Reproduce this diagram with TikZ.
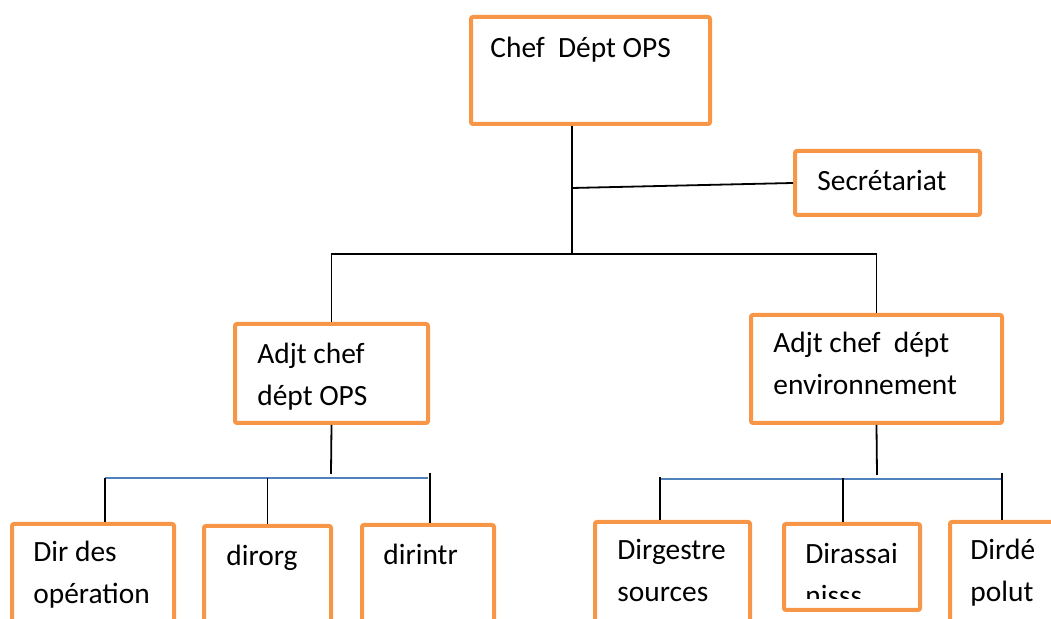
\documentclass[tikz,border=0pt]{standalone}
\usepackage{fontspec}
\setmainfont{Carlito}
\usetikzlibrary{fit}
\definecolor{boxorange}{HTML}{F79646}
\definecolor{linkblue}{HTML}{4F81BD}

\begin{document}
\begin{tikzpicture}[x=0.5pt,y=-0.5pt,
    orgbox/.style={draw=boxorange,line width=2pt,rounded corners=1pt,inner sep=0pt},
    lbl/.style={inner sep=0pt,anchor=base west,align=left,
                font=\fontsize{14.7}{21.3}\selectfont},
    link/.style={black,line width=0.9pt},
    bus/.style={linkblue,line width=0.8pt}]
  \useasboundingbox (0,0) rectangle (1051,619);
  \node[orgbox,fit={(471,17) (710,124)}]   (chef)     {};
  \node[orgbox,fit={(795,151) (980,215)}]  (sec)      {};
  \node[orgbox,fit={(235,324) (428,423)}]  (adjL)     {};
  \node[orgbox,fit={(751,315) (1002,423)}] (adjR)     {};
  \node[orgbox,fit={(12,524) (174,650)}]   (dirOps)   {};
  \node[orgbox,fit={(204,526) (331,650)}]  (dirOrg)   {};
  \node[orgbox,fit={(362,525) (494,650)}]  (dirIntr)  {};
  \node[orgbox,fit={(595,522) (750,650)}]  (dirGest)  {};
  \node[orgbox,fit={(784,524) (920,610)}]  (dirAssai) {};
  \node[orgbox,fit={(950,522) (1080,650)}] (dirPol)   {};
  \node[lbl]    (chefT)    at (490,58)  {Chef\ \ Dépt OPS};
  \node[lbl]    (secT)     at (817,191) {Secrétariat};
  \node[lbl]    (adjLT)    at (257,406) {Adjt chef\\dépt OPS};
  \node[lbl]    (adjRT)    at (773,395) {Adjt chef\ \ dépt\\environnement};
  \node[lbl]    (opsT)     at (33,604)  {Dir des\\opération};
  \node[lbl]    (orgT)     at (226,566) {dirorg};
  \node[lbl]    (intrT)    at (383,565) {dirintr};
  \node[lbl]    (gestT)    at (617,602) {Dirgestre\\sources};
  \node[lbl]    (polT)     at (970,602) {Dirdé\\polut};
  \begin{scope}
    \clip (784,500) rectangle (920,599);
    \node[lbl]  (assaiT)   at (805,606) {Dirassai\\nisss};
  \end{scope}
  \coordinate   (secTap)   at (572,188);
  \coordinate   (hub)      at (572,254);
  \draw[link] (chef.south -| hub) -- (hub);
  \draw[link] (secTap) -- (sec.west);
  \draw[link] (adjL.north) |- (hub) -| (adjR.north);
  \coordinate   (dropL)    at (331,474);
  \coordinate   (busL1)    at (105,478);
  \coordinate   (busL2)    at (428,478);
  \coordinate   (tapL3)    at (430,473);
  \draw[link] (adjL.south) -- (dropL);
  \draw[bus]  (busL1) -- (busL2);
  \draw[link] (busL1) -- (busL1 |- dirOps.north);
  \draw[link] (dirOrg.north |- busL1) -- (dirOrg.north);
  \draw[link] (tapL3) -- (tapL3 |- dirIntr.north);
  \coordinate   (dropR)    at (877,475);
  \coordinate   (busR1)    at (660,479);
  \coordinate   (busR2)    at (1002,479);
  \coordinate   (tapR1)    at (660,477);
  \coordinate   (tapR2)    at (843,478);
  \coordinate   (tapR3)    at (1002,473);
  \draw[link] (adjR.south) -- (dropR);
  \draw[bus]  (busR1) -- (busR2);
  \draw[link] (tapR1) -- (tapR1 |- dirGest.north);
  \draw[link] (tapR2) -- (tapR2 |- dirAssai.north);
  \draw[link] (tapR3) -- (tapR3 |- dirPol.north);
\end{tikzpicture}
\end{document}
